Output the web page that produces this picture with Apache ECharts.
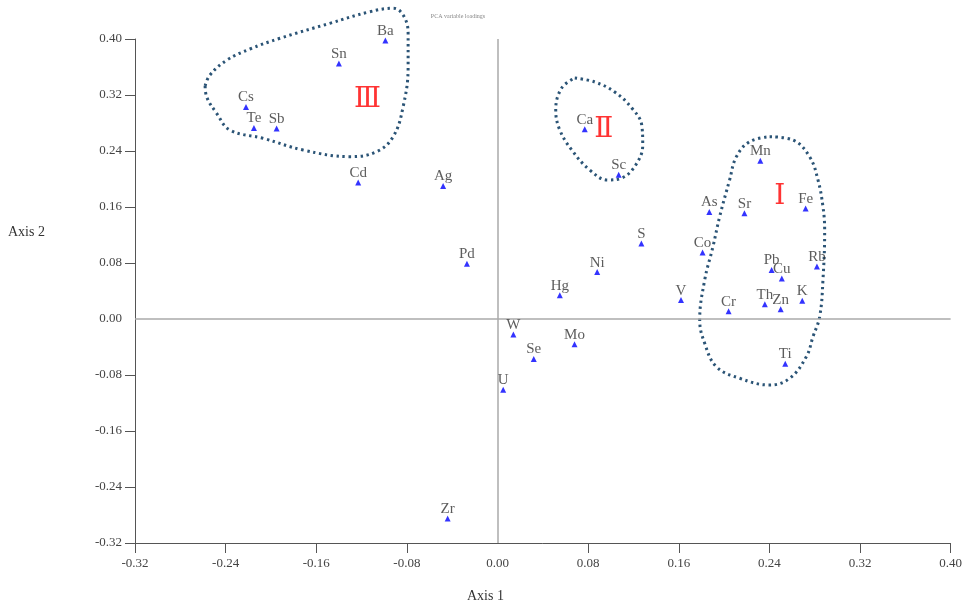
<!DOCTYPE html>
<html><head><meta charset="utf-8">
<script src="https://cdn.jsdelivr.net/npm/echarts@6/dist/echarts.min.js"></script>
<style>html,body{margin:0;padding:0;background:#fff}#c{width:965px;height:608px}</style>
</head><body><div id="c"></div><script>
// Variable loadings (Axis 1, Axis 2)
const elements = ['Ba','Sn','Cs','Te','Sb','Cd','Ag','Pd','Ca','Sc','S','Ni','Hg','V','W','Mo','Se','U','Zr','Mn','As','Sr','Fe','Co','Rb','Pb','Cu','K','Th','Zn','Cr','Ti'];
const axis1 = [-0.099,-0.140,-0.222,-0.215,-0.195,-0.123,-0.048,-0.027,0.077,0.107,0.127,0.088,0.055,0.162,0.014,0.068,0.032,0.005,-0.044,0.232,0.187,0.218,0.272,0.181,0.282,0.242,0.251,0.269,0.236,0.250,0.204,0.254];
const axis2 = [0.398,0.365,0.303,0.273,0.272,0.195,0.190,0.079,0.271,0.206,0.108,0.067,0.034,0.027,-0.022,-0.036,-0.057,-0.101,-0.285,0.226,0.153,0.151,0.158,0.095,0.075,0.070,0.058,0.026,0.021,0.014,0.011,-0.064];
const ticks = [-0.32,-0.24,-0.16,-0.08,0.00,0.08,0.16,0.24,0.32,0.40];

// Group labels and hand-drawn group outlines (data units)
const groupNames = ['Ⅲ','Ⅱ','Ⅰ'];
const groupX = [-0.1147, 0.0938, 0.2491];
const groupY = [0.3139, 0.270, 0.1747];
const outline3 = [[-0.2581,0.3329],[-0.2538,0.3486],[-0.2387,0.37],[-0.2185,0.3857],[-0.1921,0.401],[-0.1480,0.4224],[-0.1127,0.439],[-0.0921,0.4439],[-0.0833,0.4343],[-0.0789,0.4081],[-0.0789,0.3604],[-0.0833,0.3033],[-0.0921,0.2604],[-0.1068,0.239],[-0.1303,0.2319],[-0.1715,0.2414],[-0.2068,0.2581],[-0.2362,0.27],[-0.2479,0.2939],[-0.2568,0.3176],[-0.2581,0.3329]];
const outline2 = [[0.0682,0.3443],[0.0858,0.3386],[0.1035,0.3243],[0.1185,0.3014],[0.1273,0.2771],[0.1282,0.2486],[0.1220,0.22],[0.1097,0.2014],[0.0973,0.1986],[0.0814,0.2129],[0.0656,0.2414],[0.0550,0.27],[0.0514,0.2986],[0.0567,0.33],[0.0682,0.3443]];
const outline1 = [[0.2402,0.2604],[0.2608,0.2557],[0.2755,0.2319],[0.2829,0.1986],[0.2873,0.1604],[0.2888,0.1271],[0.2873,0.0557],[0.2844,0.0033],[0.2785,-0.0253],[0.2726,-0.0539],[0.2579,-0.0847],[0.2402,-0.0943],[0.2138,-0.0847],[0.1932,-0.0681],[0.1829,-0.0347],[0.1785,-0.0014],[0.1829,0.0557],[0.1902,0.1033],[0.1961,0.1461],[0.2049,0.1986],[0.2109,0.2319],[0.2226,0.2533],[0.2402,0.2604]];

const serif = '"Liberation Serif","DejaVu Serif",serif';
const chart = echarts.init(document.getElementById('c'));
const pts = elements.map((n,i)=>({name:n,value:[axis1[i],axis2[i]]}));
const groups = groupNames.map((n,i)=>({name:n,value:[groupX[i],groupY[i]]}));
const outlineStyle = {color:'#2b5476',width:3,type:[2.4,3.6]};
function outlineSeries(d){
  return {type:'line',data:d,smooth:0.4,symbol:'none',clip:false,silent:true,z:3,lineStyle:outlineStyle};
}
const axisCommon = {
  type:'value',min:-0.32,max:0.40,interval:0.08,
  splitLine:{show:false},
  axisLine:{onZero:false,lineStyle:{color:'#555',width:1}},
  axisTick:{inside:false,length:10,lineStyle:{color:'#555'},customValues:ticks.filter(v=>v!==0)},
  axisLabel:{fontFamily:serif,fontSize:13,color:'#444',formatter:v=>v.toFixed(2)}
};
chart.setOption({
  animation:false,
  title:{text:'PCA variable loadings',left:453,top:8,textAlign:'center',textStyle:{fontSize:6,fontWeight:'normal',color:'#888',fontFamily:serif}},
  grid:{left:135,right:14,top:39,bottom:65},
  xAxis:Object.assign({},axisCommon,{axisLabel:Object.assign({},axisCommon.axisLabel,{margin:14})}),
  yAxis:Object.assign({},axisCommon,{axisLabel:Object.assign({},axisCommon.axisLabel,{margin:13})}),
  graphic:[
    {type:'text',left:8,top:225,style:{text:'Axis 2',fontFamily:serif,fontSize:14,fill:'#333'}},
    {type:'text',left:467,top:589,style:{text:'Axis 1',fontFamily:serif,fontSize:14,fill:'#333'}}
  ],
  series:[
    {type:'scatter',data:pts,symbol:'triangle',symbolSize:6,itemStyle:{color:'#0000ff'},z:5,
     label:{show:true,position:'top',distance:-1,formatter:'{b}',fontFamily:serif,fontSize:15,color:'#333'},
     markLine:{silent:true,symbol:'none',label:{show:false},lineStyle:{color:'#aaa',width:1.5,type:'solid'},
       data:[{xAxis:0},{yAxis:0}]}},
    outlineSeries(outline3),outlineSeries(outline2),outlineSeries(outline1),
    {type:'scatter',data:groups,symbolSize:0,silent:true,z:4,
     label:{show:true,position:'inside',formatter:'{b}',fontFamily:serif,fontSize:28,color:'#ff0000'}}
  ]
});
</script></body></html>
